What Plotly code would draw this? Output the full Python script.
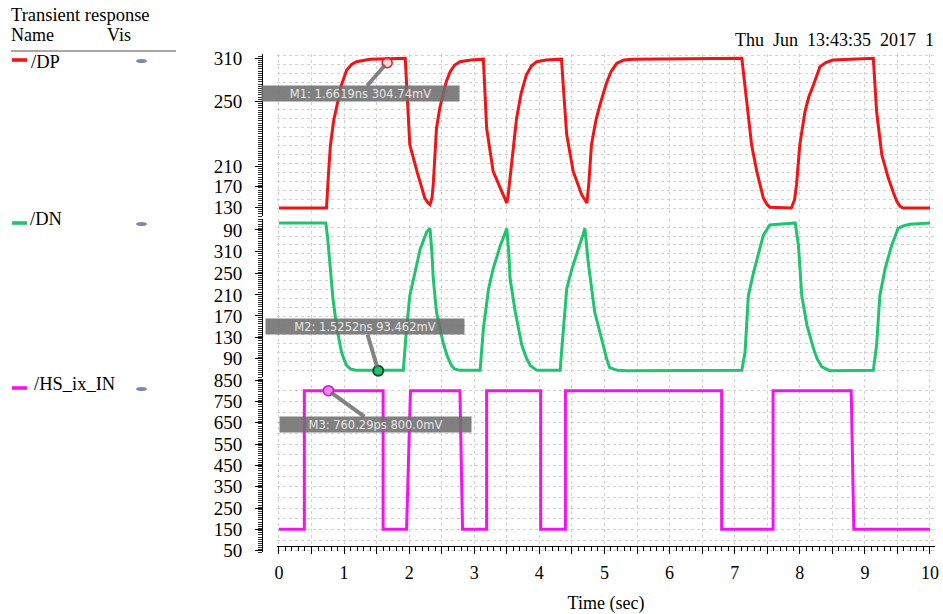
import plotly.graph_objects as go

W, H = 943, 614

# ---------------- data (time in ns, voltage in mV) ----------------
dp_time = [0.00, 0.73, 0.76, 0.79, 0.84, 0.89, 0.96, 1.04, 1.12, 1.19, 1.40, 1.94, 1.97, 2.01,
           2.12, 2.24, 2.29, 2.32, 2.35, 2.37, 2.42, 2.47, 2.52, 2.57, 2.63, 2.70, 2.78, 2.95,
           3.14, 3.19, 3.29, 3.40, 3.46, 3.50, 3.52, 3.55, 3.65, 3.72, 3.80, 3.88, 3.96, 4.10,
           4.34, 4.38, 4.42, 4.52, 4.65, 4.73, 4.76, 4.80, 4.87, 4.93, 5.03, 5.10, 5.19, 5.30,
           5.44, 7.11, 7.15, 7.18, 7.26, 7.34, 7.44, 7.50, 7.54, 7.87, 7.92, 7.95, 8.00, 8.08,
           8.14, 8.21, 8.31, 8.40, 8.51, 9.13, 9.18, 9.26, 9.36, 9.44, 9.49, 9.54, 9.59, 10.00]
dp_mv = [130, 130, 170, 205, 235, 254, 278, 296, 303, 306, 309, 310, 260, 206,
         174, 142, 136, 134, 142, 158, 226, 250, 266, 282, 294, 302, 306, 308,
         309, 226, 174, 154, 142, 136, 145, 166, 238, 268, 290, 301, 306, 308,
         309, 262, 218, 174, 146, 136, 160, 206, 236, 254, 280, 294, 304, 308,
         309, 310, 280, 258, 206, 174, 142, 134, 131, 130, 140, 158, 206, 246,
         264, 278, 300, 305, 308, 310, 246, 194, 166, 148, 138, 132, 130, 130]

dn_time = [0.00, 0.72, 0.75, 0.78, 0.83, 0.89, 0.96, 1.00, 1.04, 1.10, 1.19, 1.91, 1.93, 1.96,
           2.01, 2.09, 2.17, 2.27, 2.32, 2.35, 2.37, 2.42, 2.47, 2.52, 2.58, 2.65, 2.70, 2.78,
           3.09, 3.11, 3.14, 3.22, 3.29, 3.40, 3.50, 3.53, 3.55, 3.63, 3.73, 3.80, 3.86, 3.96,
           4.32, 4.34, 4.37, 4.42, 4.50, 4.60, 4.70, 4.75, 4.85, 4.98, 5.03, 5.08, 5.20, 5.34,
           7.11, 7.16, 7.21, 7.29, 7.36, 7.44, 7.54, 7.75, 7.93, 7.98, 8.03, 8.11, 8.21, 8.27,
           8.34, 8.46, 9.13, 9.18, 9.23, 9.31, 9.41, 9.51, 9.60, 9.69, 10.00]
dn_mv = [309, 309, 285, 252, 198, 155, 121, 110, 101, 96, 94, 94, 120, 155,
         203, 237, 271, 296, 301, 265, 228, 179, 155, 135, 116, 101, 96, 94,
         94, 120, 155, 213, 242, 276, 301, 265, 228, 179, 131, 112, 101, 94,
         94, 120, 155, 213, 242, 271, 301, 252, 179, 131, 112, 98, 94, 93.5,
         94, 121, 203, 237, 262, 291, 306, 308, 309, 276, 203, 160, 126, 110,
         99, 93.5, 94, 131, 203, 242, 276, 301, 305, 307, 309]

in_time = [0.00, 0.39, 0.39, 1.60, 1.60, 1.96, 2.02, 2.78, 2.82, 3.19, 3.19,
           4.02, 4.02, 4.40, 4.40, 6.80, 6.80, 7.59, 7.59, 8.79, 8.83, 10.00]
in_mv = [150, 150, 800, 800, 150, 150, 800, 800, 150, 150, 800,
         800, 150, 150, 800, 800, 150, 150, 800, 800, 150, 150]

# markers
marker_names = ["M1", "M2", "M3"]
marker_time = [1.6619, 1.5252, 0.76029]
marker_mv = [304.74, 93.462, 800.0]
marker_text = ["M1: 1.6619ns 304.74mV", "M2: 1.5252ns 93.462mV", "M3: 760.29ps 800.0mV"]

# tick labels (as printed on the original)
dp_tickvals = [310, 258.6, 180.5, 155.6, 130.4]
dp_ticktext = ["310", "250", "210", "170", "130"]
dn_tickvals = [298.8, 267.1, 235.6, 204.0, 173.3, 141.6, 111.6]
dn_ticktext = ["90", "310", "250", "210", "170", "130", "90"]
in_tickvals = [850, 750, 650, 550, 450, 350, 250, 150, 50]
in_ticktext = ["850", "750", "650", "550", "450", "350", "250", "150", "50"]
x_tickvals = [i * 0.5 for i in range(21)]
x_ticktext = [str(int(v)) if v == int(v) else "" for v in x_tickvals]

names = ["/DP", "/DN", "/HS_ix_IN"]
colors = ["#f01414", "#1fc46c", "#f014f0"]


def fx(px):
    return px / W


def fy(py):
    return 1 - py / H


SERIF = "Liberation Serif, Times New Roman, serif"
GRID = "#d2d2d2"

fig = go.Figure()
fig.add_trace(go.Scatter(x=dp_time, y=dp_mv, mode="lines", line=dict(color=colors[0], width=3),
                         xaxis="x", yaxis="y", showlegend=False))
fig.add_trace(go.Scatter(x=dn_time, y=dn_mv, mode="lines", line=dict(color=colors[1], width=3),
                         xaxis="x2", yaxis="y2", showlegend=False))
fig.add_trace(go.Scatter(x=in_time, y=in_mv, mode="lines", line=dict(color=colors[2], width=3),
                         xaxis="x3", yaxis="y3", showlegend=False))
# empty traces to create grid overlay subplots
for xa, ya in (("x", "y4"), ("x2", "y5"), ("x3", "y6")):
    fig.add_trace(go.Scatter(x=[], y=[], xaxis=xa, yaxis=ya, showlegend=False))

# marker symbols
mk_style = [
    dict(color="rgba(255,200,200,0.6)", size=10, line=dict(color="#f01414", width=1.5)),
    dict(color="#1fc46c", size=10, line=dict(color="#0b4d25", width=2)),
    dict(color="#ff80ff", size=10, line=dict(color="#d010d0", width=1.5)),
]
for i, (xa, ya) in enumerate((("x", "y"), ("x2", "y2"), ("x3", "y3"))):
    fig.add_trace(go.Scatter(x=[marker_time[i]], y=[marker_mv[i]], mode="markers",
                             marker=mk_style[i], xaxis=xa, yaxis=ya, showlegend=False))

xdom = [fx(277), fx(935)]
xrange = [-0.03, 10.077]
common_x = dict(domain=xdom, range=xrange, showgrid=True, gridcolor=GRID, griddash="dot",
                zeroline=False, automargin=False)

panel_dom = [[fy(216), fy(54)], [fy(377), fy(219)], [fy(552), fy(379)]]
panel_rng = [[120.4, 315.2], [84.3, 314.8], [43.9, 854.7]]
grid_tick0 = [130, 93.5, 50]
grid_dtick = [10.8, 13.1, 50]
ruler_dtick = [2.6, 3.1, 10]
tickvals = [dp_tickvals, dn_tickvals, in_tickvals]
ticktext = [dp_ticktext, dn_ticktext, in_ticktext]

layout = dict(
    width=W, height=H, autosize=False,
    margin=dict(l=0, r=0, t=0, b=0, pad=0, autoexpand=False),
    paper_bgcolor="white", plot_bgcolor="white", showlegend=False,
    xaxis=dict(common_x, anchor="y", showticklabels=False, ticks="", tickmode="linear",
               tick0=0, dtick=0.5, showline=False),
    xaxis2=dict(common_x, anchor="y2", showticklabels=False, ticks="", tickmode="linear",
                tick0=0, dtick=0.5, showline=False),
    xaxis3=dict(common_x, anchor="free", position=fy(546), tickmode="array",
                tickvals=x_tickvals, ticktext=x_ticktext, ticks="outside", ticklen=7,
                tickcolor="black", showline=True, linecolor="black", linewidth=1,
                ticklabelstandoff=3,
                minor=dict(tickmode="linear", tick0=0, dtick=0.1, ticks="outside", ticklen=4,
                           tickcolor="black", showgrid=False),
                tickfont=dict(family=SERIF, size=18, color="black"),
                title=dict(text="Time (sec)", font=dict(family=SERIF, size=18, color="black"),
                           standoff=14)),
)
for i in range(3):
    yname = "yaxis" if i == 0 else f"yaxis{i + 1}"
    layout[yname] = dict(
        domain=panel_dom[i], range=panel_rng[i], anchor="free", position=fx(262), side="left",
        tickmode="array", tickvals=tickvals[i], ticktext=ticktext[i], ticks="outside",
        ticklen=7, tickcolor="black", showline=True, linecolor="black", linewidth=1,
        showgrid=False, zeroline=False, ticklabelstandoff=9, automargin=False,
        tickfont=dict(family=SERIF, size=19, color="black"),
        minor=dict(tickmode="linear", tick0=panel_rng[i][0], dtick=ruler_dtick[i],
                   ticks="outside", ticklen=4, tickcolor="#333", showgrid=False),
    )
    ov = f"yaxis{i + 4}"
    base = "y" if i == 0 else f"y{i + 1}"
    layout[ov] = dict(
        overlaying=base, anchor="x" if i == 0 else f"x{i + 1}", side="right",
        range=panel_rng[i], tickmode="linear", tick0=grid_tick0[i], dtick=grid_dtick[i],
        showgrid=True, gridcolor=GRID, griddash="dot", showticklabels=False, ticks="",
        showline=False, zeroline=False, automargin=False,
    )

annotations = []
shapes = []


def txt(x, y, s, size=17, anchor="left", color="black", family=SERIF):
    annotations.append(dict(x=fx(x), y=fy(y), xref="paper", yref="paper", text=s,
                            showarrow=False, xanchor=anchor, yanchor="middle",
                            font=dict(family=family, size=size, color=color)))


txt(9, 15, "Transient response", size=18.5)
txt(9, 35, "Name", size=18)
txt(105, 35, "Vis", size=18)
txt(733, 40, "Thu\u00a0\u00a0Jun\u00a0\u00a013:43:35\u00a0\u00a02017\u00a0\u00a01", size=18)
shapes.append(dict(type="line", xref="paper", yref="paper", x0=fx(11), x1=fx(176),
                   y0=fy(51), y1=fy(51), line=dict(color="#8a8a8a", width=1.5)))

legend_y = [62, 219, 384]
text_x = [29, 28, 32]
for i in range(3):
    yy = legend_y[i]
    sy = yy - 2 if i == 0 else yy + 4
    shapes.append(dict(type="rect", xref="paper", yref="paper", x0=fx(12), x1=fx(27),
                       y0=fy(sy + 1.8), y1=fy(sy - 1.8), fillcolor=colors[i],
                       line=dict(width=0)))
    txt(text_x[i], yy, names[i], size=18.5)
    ey = yy - 1 if i == 0 else yy + 5
    shapes.append(dict(type="circle", xref="paper", yref="paper", x0=fx(136), x1=fx(147),
                       y0=fy(ey + 2), y1=fy(ey - 2), fillcolor="#7d87b3",
                       line=dict(width=0)))

# marker callouts
offsets = [(-27, 31), (-13, -44), (47, 34)]
widths = [195, 196, 189]
for i in range(3):
    xr = "x" if i == 0 else f"x{i + 1}"
    yr = "y" if i == 0 else f"y{i + 1}"
    annotations.append(dict(
        x=marker_time[i], y=marker_mv[i], xref=xr, yref=yr, text=marker_text[i],
        showarrow=True, arrowhead=0, arrowwidth=4, arrowcolor="rgba(110,110,110,0.85)",
        ax=offsets[i][0], ay=offsets[i][1], axref="pixel", ayref="pixel", standoff=3,
        bgcolor="rgba(110,110,110,0.88)", borderpad=1, width=widths[i], height=13,
        font=dict(family="DejaVu Sans, Arial", size=11.5, color="#e6e6e6"), align="center"))

layout["annotations"] = annotations
layout["shapes"] = shapes
fig.update_layout(**layout)
fig.write_html("out.html", config={"displayModeBar": False},
               post_script="document.body.style.margin='0px';"
                           "document.body.style.overflow='hidden';")
